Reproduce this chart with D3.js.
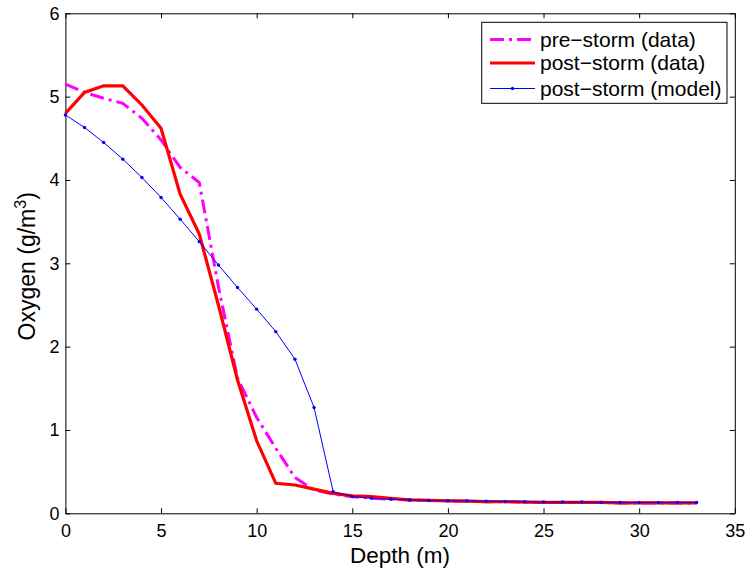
<!DOCTYPE html>
<html><head><meta charset="utf-8">
<script src="https://cdn.jsdelivr.net/npm/d3@7"></script>
<style>body{margin:0;background:#fff}text{font-family:"Liberation Sans",Arial,sans-serif}</style>
</head><body>
<svg id="c" width="750" height="570"></svg>
<script>
const depth = d3.range(0, 34);
const preStorm = [5.15,5.05,4.98,4.92,4.74,4.48,4.15,3.97,2.72,1.62,1.15,0.78,0.43,0.28,0.23,0.2,0.18,0.17,0.16,0.155,0.15,0.145,0.14,0.14,0.135,0.13,0.13,0.13,0.13,0.125,0.125,0.125,0.125,0.125];
const postStorm = [4.8,5.05,5.13,5.13,4.9,4.62,3.83,3.35,2.5,1.6,0.87,0.36,0.34,0.29,0.24,0.21,0.2,0.18,0.16,0.155,0.15,0.145,0.14,0.14,0.135,0.13,0.13,0.13,0.13,0.125,0.125,0.125,0.125,0.125];
const model = [4.78,4.63,4.45,4.25,4.03,3.79,3.53,3.26,2.98,2.71,2.45,2.18,1.85,1.27,0.26,0.2,0.18,0.17,0.16,0.155,0.15,0.15,0.145,0.14,0.14,0.135,0.135,0.135,0.13,0.13,0.13,0.13,0.13,0.13];
const xTicks = [0,5,10,15,20,25,30,35];
const yTicks = [0,1,2,3,4,5,6];
const legendLabels = ["pre\u2212storm (data)","post\u2212storm (data)","post\u2212storm (model)"];

const svg = d3.select("#c");
const L=65.4, R=734.8, T=13.3, B=513.3;
const x = d3.scaleLinear().domain([0,35]).range([L,R]);
const y = d3.scaleLinear().domain([0,6]).range([B,T]);
const fmt = d3.format("d");

const g = svg.append("g");
const ax = g.append("g").attr("transform",`translate(0,${B})`).call(d3.axisBottom(x).tickValues(xTicks).tickFormat(fmt).tickSizeInner(-5).tickSizeOuter(0).tickPadding(7.5));
const ay = g.append("g").attr("transform",`translate(${L},0)`).call(d3.axisLeft(y).tickValues(yTicks).tickFormat(fmt).tickSizeInner(-5).tickSizeOuter(0).tickPadding(6));
const at = g.append("g").attr("transform",`translate(0,${T})`).call(d3.axisTop(x).tickValues(xTicks).tickSizeInner(-5).tickSizeOuter(0).tickFormat(""));
const ar = g.append("g").attr("transform",`translate(${R},0)`).call(d3.axisRight(y).tickValues(yTicks).tickSizeInner(-5).tickSizeOuter(0).tickFormat(""));
[ax,ay,at,ar].forEach(a=>{a.selectAll("text").style("font-size","18px").attr("fill","#000");a.select(".domain").attr("stroke","#000");a.selectAll(".tick line").attr("stroke","#000");});
ax.selectAll("text").attr("dy","0.9em");

const line = d3.line().x((d,i)=>x(depth[i])).y(d=>y(d));
g.append("path").datum(preStorm).attr("d",line).attr("fill","none").attr("stroke","#ff00ff").attr("stroke-width",3).attr("stroke-dasharray","14,5,3,5");
g.append("path").datum(postStorm).attr("d",line).attr("fill","none").attr("stroke","#ff0000").attr("stroke-width",3.2);
g.append("path").datum(model).attr("d",line).attr("fill","none").attr("stroke","#0000ff").attr("stroke-width",1);
g.selectAll("circle.m").data(model).enter().append("circle").attr("cx",(d,i)=>x(depth[i])).attr("cy",d=>y(d)).attr("r",1.7).attr("fill","#0000ff");

svg.append("text").attr("x",(L+R)/2).attr("y",562.5).attr("text-anchor","middle").style("font-size","22.5px").text("Depth (m)");
const yl = svg.append("text").attr("transform",`translate(35,${(T+B)/2+3}) rotate(-90)`).attr("text-anchor","middle").style("font-size","23px");
yl.append("tspan").text("Oxygen (g/m");
yl.append("tspan").attr("dy","-9").style("font-size","16px").text("3");
yl.append("tspan").attr("dy","9").text(")");

const lg = svg.append("g");
lg.append("rect").attr("x",481.7).attr("y",22.3).attr("width",245.3).attr("height",81).attr("fill","#fff").attr("stroke","#000").attr("stroke-width",1);
const ly = [39.5,63,88.5];
const styles = [{c:"#ff00ff",w:3,da:"14,5,3,5"},{c:"#ff0000",w:3.2,da:null},{c:"#0000ff",w:1,da:null}];
legendLabels.forEach((lab,i)=>{
  const s=styles[i];
  const l=lg.append("line").attr("x1",490).attr("x2",535).attr("y1",ly[i]).attr("y2",ly[i]).attr("stroke",s.c).attr("stroke-width",s.w);
  if(s.da) l.attr("stroke-dasharray",s.da);
  if(i===2) lg.append("circle").attr("cx",512.5).attr("cy",ly[i]).attr("r",1.7).attr("fill",s.c);
  lg.append("text").attr("x",540).attr("y",ly[i]).attr("dy","0.35em").style("font-size","21px").text(lab);
});
</script>
</body></html>
